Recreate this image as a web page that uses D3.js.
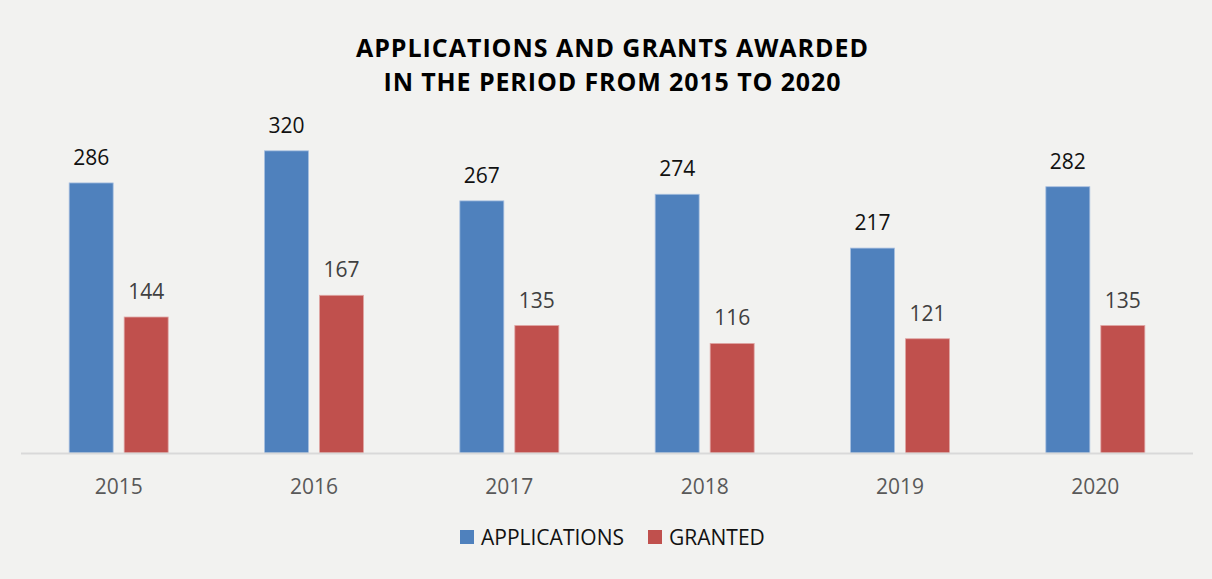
<!DOCTYPE html>
<html>
<head>
<meta charset="utf-8">
<script src="https://cdn.jsdelivr.net/npm/d3@7"></script>
<style>
  body { margin: 0; background: #f2f2f0; }
  svg { display: block; }
  text { font-family: "Open Sans", "Noto Sans", sans-serif; }
</style>
</head>
<body>
<svg id="chart"></svg>
<script>
// blue #4f81bd
// red #c0504d

var years = ["2015", "2016", "2017", "2018", "2019", "2020"];
var applications = [286, 320, 267, 274, 217, 282];
var granted = [144, 167, 135, 116, 121, 135];
var seriesNames = ["APPLICATIONS", "GRANTED"];
var titleLines = ["APPLICATIONS AND GRANTS AWARDED", "IN THE PERIOD FROM 2015 TO 2020"];

var width = 1212,
    height = 579;

var margin = { top: 0, right: 19, bottom: 126, left: 21 };

var svg = d3.select("#chart")
    .attr("width", width)
    .attr("height", height);

svg.append("rect")
    .attr("width", width)
    .attr("height", height)
    .attr("fill", "#f2f2f0");

var baseY = height - margin.bottom; // 453

var x0 = d3.scaleBand()
    .domain(years)
    .range([margin.left, width - margin.right]);

var x1 = d3.scaleBand()
    .domain(seriesNames)
    .range([0, 99])
    .paddingInner(0.2);

var y = d3.scaleLinear()
    .domain([0, 350])
    .range([baseY, baseY - 330.5]);

var colors = { "APPLICATIONS": "#4f81bd", "GRANTED": "#c0504d" };
var strokes = { "APPLICATIONS": "#a9c0e0", "GRANTED": "#dfa6a4" };
var labelColors = { "APPLICATIONS": "#111", "GRANTED": "#404040" };

var data = years.map(function (d, i) {
    return {
        year: d,
        values: [
            { name: "APPLICATIONS", value: applications[i] },
            { name: "GRANTED", value: granted[i] }
        ]
    };
});

// title: slightly smaller font, stretched a bit to the reference width
var titleWidths = [512, 457];
svg.append("g")
    .selectAll("text")
    .data(titleLines)
    .enter()
    .append("text")
    .attr("x", 612)
    .attr("y", function (d, i) { return 57 + i * 34; })
    .attr("text-anchor", "middle")
    .attr("font-size", 25)
    .attr("font-weight", "bold")
    .attr("fill", "#000")
    .attr("textLength", function (d, i) { return titleWidths[i]; })
    .attr("lengthAdjust", "spacing")
    .text(function (d) { return d; });

var groups = svg.append("g")
    .selectAll("g")
    .data(data)
    .enter()
    .append("g")
    .attr("transform", function (d) {
        return "translate(" + (x0(d.year) + (x0.bandwidth() - 99) / 2) + ",0)";
    });

groups.selectAll("rect")
    .data(function (d) { return d.values; })
    .enter()
    .append("rect")
    .attr("x", function (d) { return x1(d.name); })
    .attr("y", function (d) { return y(d.value); })
    .attr("width", x1.bandwidth())
    .attr("height", function (d) { return baseY - y(d.value); })
    .attr("fill", function (d) { return colors[d.name]; })
    .attr("stroke", function (d) { return strokes[d.name]; })
    .attr("stroke-width", 0.8);

groups.selectAll("text")
    .data(function (d) { return d.values; })
    .enter()
    .append("text")
    .attr("x", function (d) { return x1(d.name) + x1.bandwidth() / 2; })
    .attr("y", function (d) { return y(d.value) - 18; })
    .attr("text-anchor", "middle")
    .attr("font-size", 21)
    .attr("fill", function (d) { return labelColors[d.name]; })
    .text(function (d) { return d.value; });

// axis line
svg.append("line")
    .attr("x1", margin.left)
    .attr("x2", width - margin.right)
    .attr("y1", baseY + 0.5)
    .attr("y2", baseY + 0.5)
    .attr("stroke", "#d9d9d9")
    .attr("stroke-width", 2);

svg.append("g")
    .selectAll("text")
    .data(years)
    .enter()
    .append("text")
    .attr("x", function (d) { return x0(d) + x0.bandwidth() / 2; })
    .attr("y", 494)
    .attr("text-anchor", "middle")
    .attr("font-size", 21)
    .attr("fill", "#595959")
    .text(function (d) { return d; });

// legend
var legendX = [460, 648];
var legend = svg.append("g")
    .selectAll("g")
    .data(seriesNames)
    .enter()
    .append("g")
    .attr("transform", function (d, i) { return "translate(" + legendX[i] + ",530)"; });

legend.append("rect")
    .attr("width", 14)
    .attr("height", 14)
    .attr("fill", function (d) { return colors[d]; });

legend.append("text")
    .attr("x", 21)
    .attr("y", 14.5)
    .attr("font-size", 21)
    .attr("fill", "#111")
    .text(function (d) { return d; });
</script>
</body>
</html>
